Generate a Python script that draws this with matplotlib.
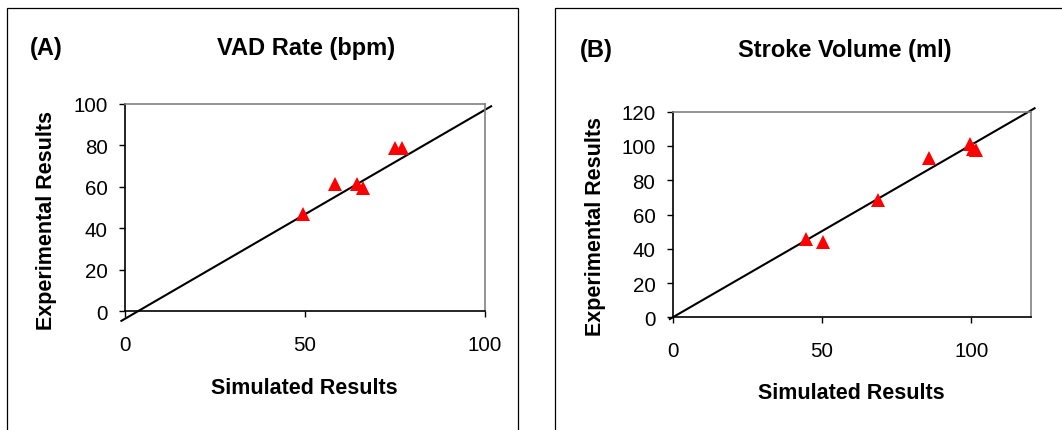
import matplotlib
matplotlib.use('Agg')
import matplotlib.pyplot as plt
from matplotlib.patches import Rectangle

plt.rcParams['font.family'] = ['Liberation Sans', 'DejaVu Sans']

# Panel A: VAD rate (bpm)
sim_a = [49.5, 58.3, 64.4, 66.2, 75.0, 76.9]
exp_a = [46.9, 61.4, 61.4, 59.3, 78.9, 78.9]
line_a_x = [-1.0, 101.7]
line_a_y = [-4.6, 98.9]

# Panel B: stroke volume (ml)
sim_b = [44.8, 50.3, 68.8, 85.7, 99.5, 100.5, 101.5]
exp_b = [45.5, 44.2, 68.6, 93.2, 101.3, 98.5, 97.8]
line_b_x = [-0.9, 121.2]
line_b_y = [-1.0, 122.0]

W, H = 1062, 431
fig = plt.figure(figsize=(W / 100, H / 100), dpi=100)


def px_axes(left, right, top, bottom):
    return fig.add_axes([left / W, 1 - bottom / H, (right - left) / W, (bottom - top) / H])


def style_axes(ax, xmax, ymax, yticks):
    ax.set_xlim(0, xmax)
    ax.set_ylim(0, ymax)
    ax.set_xticks([0, 50, 100])
    ax.set_yticks(yticks)
    for s in ['left', 'bottom']:
        ax.spines[s].set_color('black')
        ax.spines[s].set_linewidth(1.2)
    for s in ['top', 'right']:
        ax.spines[s].set_color('#808080')
        ax.spines[s].set_linewidth(1.2)
    ax.tick_params(direction='out', length=4.3, width=1.0, labelsize=14.8)
    ax.tick_params(axis='y', pad=8)
    ax.tick_params(axis='x', pad=13)


def panel_frame(left, right):
    fig.add_artist(Rectangle((left / W, -0.01), (right - left) / W, 1 - 9 / H + 0.01,
                             transform=fig.transFigure, fill=False,
                             edgecolor='black', linewidth=0.9))


# (A)
panel_frame(7, 518)
ax1 = px_axes(125, 485, 105, 312.3)
style_axes(ax1, 100, 100, [0, 20, 40, 60, 80, 100])
ax1.plot(line_a_x, line_a_y, color='black', linewidth=1.5, clip_on=False)
ax1.plot(sim_a, exp_a, linestyle='none', marker='^', markersize=9.5,
         color='#ff0000', markeredgewidth=0, clip_on=False)
fig.text(30 / W, 1 - 55 / H, '(A)', fontsize=17, fontweight='bold', ha='left', va='baseline')
fig.text(306 / W, 1 - 55 / H, 'VAD Rate (bpm)', fontsize=17, fontweight='bold', ha='center', va='baseline')
fig.text(304 / W, 1 - 394 / H, 'Simulated Results', fontsize=15.5, fontweight='bold', ha='center', va='baseline')
fig.text(47 / W, 1 - 221 / H, 'Experimental Results', fontsize=15.5, fontweight='bold',
         ha='center', va='center', rotation=90)

# (B)
panel_frame(555, 1075)
ax2 = px_axes(672.5, 1031, 112.7, 318.3)
style_axes(ax2, 120, 120, [0, 20, 40, 60, 80, 100, 120])
ax2.plot(line_b_x, line_b_y, color='black', linewidth=1.5, clip_on=False)
ax2.plot(sim_b, exp_b, linestyle='none', marker='^', markersize=9.5,
         color='#ff0000', markeredgewidth=0, clip_on=False)
fig.text(580 / W, 1 - 57.5 / H, '(B)', fontsize=17, fontweight='bold', ha='left', va='baseline')
fig.text(845 / W, 1 - 57.5 / H, 'Stroke Volume (ml)', fontsize=17, fontweight='bold', ha='center', va='baseline')
fig.text(851 / W, 1 - 399.5 / H, 'Simulated Results', fontsize=15.5, fontweight='bold', ha='center', va='baseline')
fig.text(596 / W, 1 - 226.7 / H, 'Experimental Results', fontsize=15.5, fontweight='bold',
         ha='center', va='center', rotation=90)

fig.savefig('out.png', dpi=100)
